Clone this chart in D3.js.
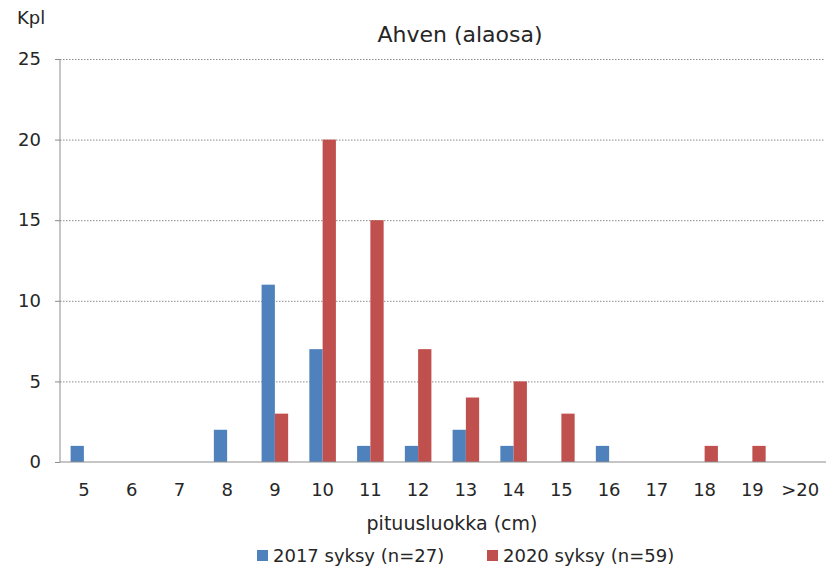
<!DOCTYPE html>
<html>
<head>
<meta charset="utf-8">
<script src="https://cdn.jsdelivr.net/npm/d3@7"></script>
<style>
  body { margin: 0; background: #fff; }
  text { font-family: "DejaVu Sans", sans-serif; fill: #262626; }
</style>
</head>
<body>
<svg id="chart" width="826" height="573"></svg>
<script>
var categories = ['5', '6', '7', '8', '9', '10', '11', '12', '13', '14', '15', '16', '17', '18', '19', '>20'];
var seriesNames = ['2017 syksy (n=27)', '2020 syksy (n=59)'];
var values2017 = [1, 0, 0, 2, 11, 7, 1, 1, 2, 1, 0, 1, 0, 0, 0, 0];
var values2020 = [0, 0, 0, 0, 3, 20, 15, 7, 4, 5, 3, 0, 0, 1, 1, 0];
var yTicks = [0, 5, 10, 15, 20, 25];
var colors = ['#4F81BD', '#C0504D'];

var svg = d3.select('#chart');

var plotLeft = 60, plotRight = 824, plotTop = 59, plotBottom = 462;

var x = d3.scaleBand()
    .domain(categories)
    .range([plotLeft, plotRight])
    .paddingInner(0)
    .paddingOuter(0);

var inner = d3.scaleBand()
    .domain([0, 1])
    .range([x.bandwidth() * 0.222, x.bandwidth() * 0.778]);

var y = d3.scaleLinear()
    .domain([0, 25])
    .range([plotBottom, plotTop]);

// gridlines
svg.append('g')
  .selectAll('line')
  .data(yTicks.filter(function(d) { return d > 0; }))
  .enter().append('line')
    .attr('x1', plotLeft)
    .attr('x2', plotRight)
    .attr('y1', function(d) { return y(d) + 0.5; })
    .attr('y2', function(d) { return y(d) + 0.5; })
    .attr('stroke', '#8c8c8c')
    .attr('stroke-width', 1)
    .attr('stroke-dasharray', '1.5,1.5');

// bars
var rows = categories.map(function(c, i) {
  return {cat: c, vals: [values2017[i], values2020[i]]};
});

var groups = svg.append('g')
  .selectAll('g')
  .data(rows)
  .enter().append('g')
    .attr('transform', function(d) { return 'translate(' + x(d.cat) + ',0)'; });

groups.selectAll('rect')
  .data(function(d) { return d.vals.map(function(v, j) { return {v: v, j: j}; }).filter(function(d) { return d.v > 0; }); })
  .enter().append('rect')
    .attr('x', function(d) { return inner(d.j); })
    .attr('width', inner.bandwidth())
    .attr('y', function(d) { return y(d.v); })
    .attr('height', function(d) { return y(0) - y(d.v); })
    .attr('fill', function(d) { return colors[d.j]; });

// y axis
var yAxis = d3.axisLeft(y)
    .tickValues(yTicks)
    .tickSize(5)
    .tickPadding(14);

var ya = svg.append('g')
  .attr('transform', 'translate(' + plotLeft + ',0)')
  .call(yAxis);
ya.select('.domain').attr('stroke', '#8c8c8c').attr('d', 'M0,' + plotTop + 'V' + plotBottom);
ya.selectAll('.tick line').attr('stroke', '#8c8c8c');
ya.selectAll('.tick text')
  .style('font-family', '"DejaVu Sans", sans-serif')
  .style('font-size', '18px')
  .attr('fill', '#262626');

// x axis
var xAxis = d3.axisBottom(x).tickSize(0).tickPadding(21);
var xa = svg.append('g')
  .attr('transform', 'translate(0,' + plotBottom + ')')
  .call(xAxis);
xa.select('.domain').attr('stroke', '#8c8c8c').attr('d', 'M' + plotLeft + ',0H' + 826);
xa.selectAll('.tick text')
  .style('font-family', '"DejaVu Sans", sans-serif')
  .style('font-size', '18px')
  .attr('fill', '#262626');

// titles
svg.append('text')
  .attr('x', 460).attr('y', 42)
  .attr('text-anchor', 'middle')
  .style('font-size', '22px')
  .text('Ahven (alaosa)');

svg.append('text')
  .attr('x', 17).attr('y', 24)
  .style('font-size', '18px')
  .text('Kpl');

svg.append('text')
  .attr('x', 452).attr('y', 530)
  .attr('text-anchor', 'middle')
  .style('font-size', '19px')
  .text('pituusluokka (cm)');

// legend
var legendX = [257, 487];
var legend = svg.append('g')
  .selectAll('g')
  .data(seriesNames)
  .enter().append('g')
    .attr('transform', function(d, i) { return 'translate(' + legendX[i] + ',550)'; });

legend.append('rect')
  .attr('width', 11).attr('height', 11)
  .attr('fill', function(d, i) { return colors[i]; });

legend.append('text')
  .attr('x', 16).attr('y', 12)
  .style('font-size', '18px')
  .text(function(d) { return d; });
</script>
</body>
</html>
